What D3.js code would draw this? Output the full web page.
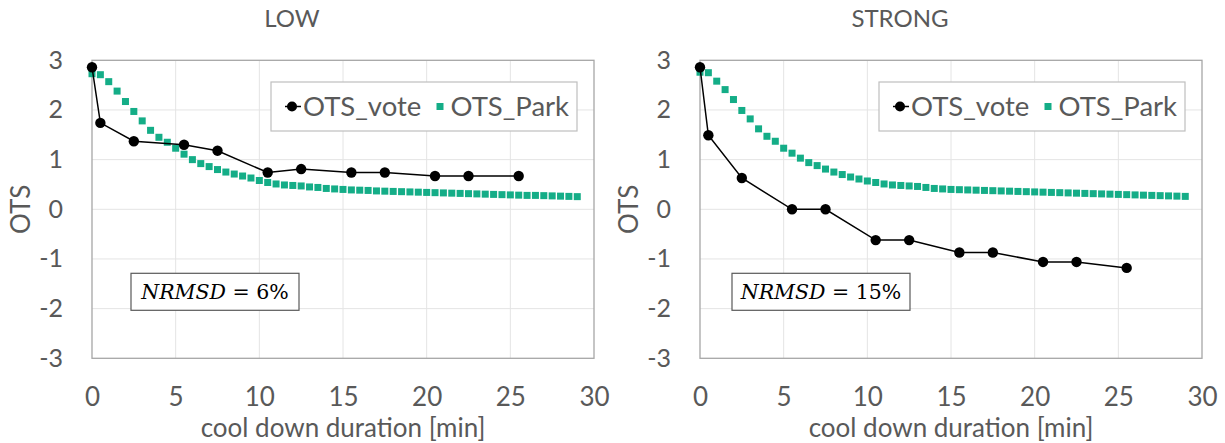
<!DOCTYPE html>
<html>
<head>
<meta charset="utf-8">
<script src="https://cdn.jsdelivr.net/npm/d3@7"></script>
<style>
    body { margin: 0; background: #fff; }
    text { font-family: Lato, sans-serif; fill: #595959; }
</style>
</head>
<body>
<div id="chart"></div>
<script>
// cool down duration [min] of the vote points
var xVote = [0, 0.5, 2.5, 5.5, 7.5, 10.5, 12.5, 15.5, 17.5, 20.5, 22.5, 25.5];
var lowVote = [2.86, 1.74, 1.37, 1.30, 1.18, 0.74, 0.81, 0.74, 0.74, 0.67, 0.67, 0.67];
var strongVote = [2.86, 1.49, 0.63, 0.0, 0.0, -0.62, -0.62, -0.87, -0.87, -1.06, -1.06, -1.18];

// Park model, one point every half minute
var xPark = [0, 0.5, 1, 1.5, 2, 2.5, 3, 3.5, 4, 4.5, 5, 5.5, 6, 6.5, 7, 7.5, 8, 8.5, 9, 9.5,
    10, 10.5, 11, 11.5, 12, 12.5, 13, 13.5, 14, 14.5, 15, 15.5, 16, 16.5, 17, 17.5, 18, 18.5, 19, 19.5,
    20, 20.5, 21, 21.5, 22, 22.5, 23, 23.5, 24, 24.5, 25, 25.5, 26, 26.5, 27, 27.5, 28, 28.5, 29];
var lowPark = [2.73, 2.71, 2.57, 2.38, 2.17, 1.97, 1.78, 1.59, 1.45, 1.35, 1.23,
    1.11, 1.0, 0.92, 0.86, 0.8, 0.75, 0.71, 0.67, 0.63, 0.58,
    0.54, 0.51, 0.49, 0.48, 0.47, 0.45, 0.44, 0.42, 0.41, 0.40,
    0.39, 0.385, 0.38, 0.37, 0.365, 0.36, 0.355, 0.35, 0.345, 0.34,
    0.335, 0.33, 0.325, 0.32, 0.315, 0.31, 0.305, 0.30, 0.295, 0.29,
    0.285, 0.28, 0.28, 0.275, 0.27, 0.265, 0.26, 0.255];
var strongPark = [2.76, 2.75, 2.58, 2.41, 2.21, 1.99, 1.82, 1.62, 1.47, 1.37, 1.23,
    1.13, 1.03, 0.94, 0.88, 0.81, 0.75, 0.70, 0.65, 0.61, 0.57,
    0.54, 0.51, 0.49, 0.48, 0.47, 0.46, 0.44, 0.42, 0.41, 0.40,
    0.395, 0.39, 0.385, 0.38, 0.375, 0.37, 0.365, 0.36, 0.355, 0.35,
    0.345, 0.34, 0.335, 0.33, 0.325, 0.32, 0.315, 0.31, 0.305, 0.30,
    0.295, 0.29, 0.285, 0.28, 0.275, 0.27, 0.265, 0.26];

var xTicks = [0, 5, 10, 15, 20, 25, 30];
var yTicks = [-3, -2, -1, 0, 1, 2, 3];

var parkColor = "#14ad87";

var svg = d3.select("#chart").append("svg")
    .attr("width", 1225)
    .attr("height", 443);
svg.append("rect")
    .attr("width", 1225)
    .attr("height", 443)
    .attr("fill", "#fff");

function drawPanel(left, title, vote, park, nrmsd, boxX, boxW) {
    var top = 60.3, width = 502, height = 298;
    var g = svg.append("g")
        .attr("transform", "translate(" + left + "," + top + ")");

    var x = d3.scaleLinear().domain([0, 30]).range([0, width]),
        y = d3.scaleLinear().domain([-3, 3]).range([height, 0]);

    // gridlines
    g.append("g").selectAll("line")
        .data(xTicks.slice(1, -1))
        .enter().append("line")
        .attr("x1", function (d) { return x(d); })
        .attr("x2", function (d) { return x(d); })
        .attr("y1", 0)
        .attr("y2", height)
        .attr("stroke", "#e4e4e4");
    g.append("g").selectAll("line")
        .data(yTicks.slice(1, -1))
        .enter().append("line")
        .attr("x1", 0)
        .attr("x2", width)
        .attr("y1", function (d) { return y(d); })
        .attr("y2", function (d) { return y(d); })
        .attr("stroke", "#e4e4e4");

    g.append("rect")
        .attr("width", width)
        .attr("height", height)
        .attr("fill", "none")
        .attr("stroke", "#a6a6a6")
        .attr("stroke-width", 1.3);

    // axes
    var xa = g.append("g")
        .attr("transform", "translate(0," + height + ")")
        .call(d3.axisBottom(x).tickValues(xTicks).tickSize(0).tickPadding(29))
        .attr("font-size", 26);
    xa.select(".domain").remove();

    var ya = g.append("g")
        .call(d3.axisLeft(y).tickValues(yTicks).tickSize(0).tickPadding(29)
            .tickFormat(function (d) { return String(d); }))
        .attr("font-size", 25);
    ya.select(".domain").remove();

    g.append("text")
        .attr("x", width / 2)
        .attr("y", 376.7)
        .attr("text-anchor", "middle")
        .attr("font-size", 26)
        .text("cool down duration [min]");

    g.append("text")
        .attr("transform", "translate(-71," + (height / 2) + ") rotate(-90)")
        .attr("text-anchor", "middle")
        .attr("dy", "0.36em")
        .attr("font-size", 26)
        .text("OTS");

    g.append("text")
        .attr("x", 200)
        .attr("y", -33.3)
        .attr("text-anchor", "middle")
        .attr("font-size", 24)
        .text(title);

    // Park series (markers only)
    g.append("g").selectAll("rect")
        .data(park)
        .enter().append("rect")
        .attr("x", function (d, i) { return x(xPark[i]) - 3.5; })
        .attr("y", function (d) { return y(d) - 3.5; })
        .attr("width", 7)
        .attr("height", 7)
        .attr("fill", parkColor);

    // vote series
    var line = d3.line()
        .x(function (d, i) { return x(xVote[i]); })
        .y(function (d) { return y(d); });
    g.append("path")
        .datum(vote)
        .attr("d", line)
        .attr("fill", "none")
        .attr("stroke", "#000")
        .attr("stroke-width", 1.5);
    g.append("g").selectAll("circle")
        .data(vote)
        .enter().append("circle")
        .attr("cx", function (d, i) { return x(xVote[i]); })
        .attr("cy", function (d) { return y(d); })
        .attr("r", 5.2)
        .attr("fill", "#000");

    // legend
    var lg = g.append("g").attr("transform", "translate(179,21.7)");
    lg.append("rect")
        .attr("width", 306)
        .attr("height", 49)
        .attr("fill", "#fff")
        .attr("stroke", "#bfbfbf")
        .attr("stroke-width", 1.2);
    lg.append("line")
        .attr("x1", 14)
        .attr("x2", 30)
        .attr("y1", 24.5)
        .attr("y2", 24.5)
        .attr("stroke", "#000")
        .attr("stroke-width", 1.5);
    lg.append("circle")
        .attr("cx", 21)
        .attr("cy", 24.5)
        .attr("r", 5)
        .attr("fill", "#000");
    lg.append("text")
        .attr("x", 32)
        .attr("y", 33.5)
        .attr("font-size", 27.5)
        .text("OTS_vote");
    lg.append("rect")
        .attr("x", 165.5)
        .attr("y", 21)
        .attr("width", 7)
        .attr("height", 7)
        .attr("fill", parkColor);
    lg.append("text")
        .attr("x", 179.5)
        .attr("y", 33.5)
        .attr("font-size", 27.5)
        .text("OTS_Park");

    // NRMSD box
    var nb = g.append("g").attr("transform", "translate(" + boxX + ",213)");
    nb.append("rect")
        .attr("width", boxW)
        .attr("height", 37)
        .attr("fill", "#fff")
        .attr("stroke", "#595959")
        .attr("stroke-width", 1.2);
    var nt = nb.append("text")
        .attr("x", boxW / 2)
        .attr("y", 26)
        .attr("text-anchor", "middle")
        .attr("font-size", 20.5)
        .style("font-family", "'DejaVu Serif', serif")
        .style("fill", "#000");
    nt.append("tspan").style("font-style", "italic").text("NRMSD");
    nt.append("tspan").text(" = " + nrmsd);
}

drawPanel(92, "LOW", lowVote, lowPark, "6%", 39, 168);
drawPanel(700, "STRONG", strongVote, strongPark, "15%", 32, 178);
</script>
</body>
</html>
